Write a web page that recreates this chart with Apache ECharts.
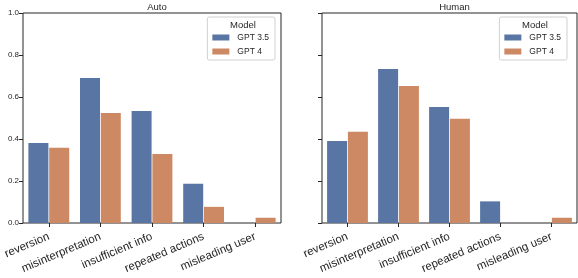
<!DOCTYPE html>
<html>
<head>
<meta charset="utf-8">
<script src="https://cdn.jsdelivr.net/npm/echarts@6/dist/echarts.min.js"></script>
<style>html,body{margin:0;padding:0;background:#fff}#c{width:578px;height:278px}</style>
</head>
<body>
<div id="c"></div>
<script>
const categories = ['reversion', 'misinterpretation', 'insufficient info', 'repeated actions', 'misleading user'];
const panels = ['Auto', 'Human'];
const seriesNames = ['GPT 3.5', 'GPT 4'];
const autoGpt35 = [0.381, 0.690, 0.533, 0.187, 0];
const autoGpt4 = [0.358, 0.524, 0.329, 0.077, 0.025];
const humanGpt35 = [0.391, 0.733, 0.552, 0.103, 0];
const humanGpt4 = [0.434, 0.652, 0.497, 0, 0.025];
const yTicks = [0, 0.2, 0.4, 0.6, 0.8, 1.0];

const colors = ['#5975a4', '#cc8963'];
const font = 'Liberation Sans, Arial, sans-serif';
const ink = '#262626';
const grids = [
  {left: 23, top: 13, width: 258, height: 210},
  {left: 322, top: 13, width: 255, height: 210}
];
const chart = echarts.init(document.getElementById('c'));
const data = [[autoGpt35, autoGpt4], [humanGpt35, humanGpt4]];

const option = {
  animation: false,
  color: colors,
  textStyle: {fontFamily: font},
  title: panels.map((p, i) => ({
    text: p,
    left: grids[i].left + grids[i].width / 2,
    textAlign: 'center',
    top: -3,
    textStyle: {fontSize: 9.5, fontWeight: 'normal', color: ink, fontFamily: font}
  })),
  grid: grids.map(g => Object.assign({show: true, borderColor: ink, borderWidth: 1, backgroundColor: 'transparent'}, g)),
  xAxis: panels.map((p, i) => ({
    type: 'category', gridIndex: i, data: categories,
    axisLine: {show: false},
    axisTick: {show: true, alignWithLabel: true, length: 4, lineStyle: {color: ink}},
    axisLabel: {rotate: 23, fontSize: 11.5, color: ink, margin: 13, interval: 0, fontFamily: font}
  })),
  yAxis: panels.map((p, i) => ({
    type: 'value', gridIndex: i, min: 0, max: 1, interval: 0.2,
    splitLine: {show: false},
    axisLine: {show: false},
    axisTick: {show: true, length: 4, lineStyle: {color: ink}},
    axisLabel: {show: i === 0, fontSize: 8, color: ink, margin: 4, fontFamily: font,
      formatter: v => v.toFixed(1)}
  })),
  legend: panels.map((p, i) => ({
    data: seriesNames,
    orient: 'vertical',
    right: i === 0 ? 578 - 275 : 578 - 567,
    top: 17,
    padding: [16, 6, 4, 5],
    itemGap: 5,
    itemWidth: 17,
    itemHeight: 6,
    borderColor: '#d0d0d0',
    borderWidth: 1,
    borderRadius: 2,
    backgroundColor: 'rgba(255,255,255,0.8)',
    icon: 'rect',
    textStyle: {fontSize: 8.5, color: ink, fontFamily: font, padding: [0, 0, 0, 3]}
  })),
  graphic: [
    {type: 'text', z: 100, left: 230, top: 20, style: {text: 'Model', fontSize: 9.5, fill: ink, fontFamily: font}},
    {type: 'text', z: 100, left: 522, top: 20, style: {text: 'Model', fontSize: 9.5, fill: ink, fontFamily: font}}
  ],
  series: []
};
panels.forEach((p, i) => {
  seriesNames.forEach((n, j) => {
    option.series.push({
      type: 'bar', name: n, xAxisIndex: i, yAxisIndex: i,
      data: data[i][j],
      barWidth: 20,
      barGap: '4%',
      itemStyle: {color: colors[j]}
    });
  });
});
chart.setOption(option);
</script>
</body>
</html>
